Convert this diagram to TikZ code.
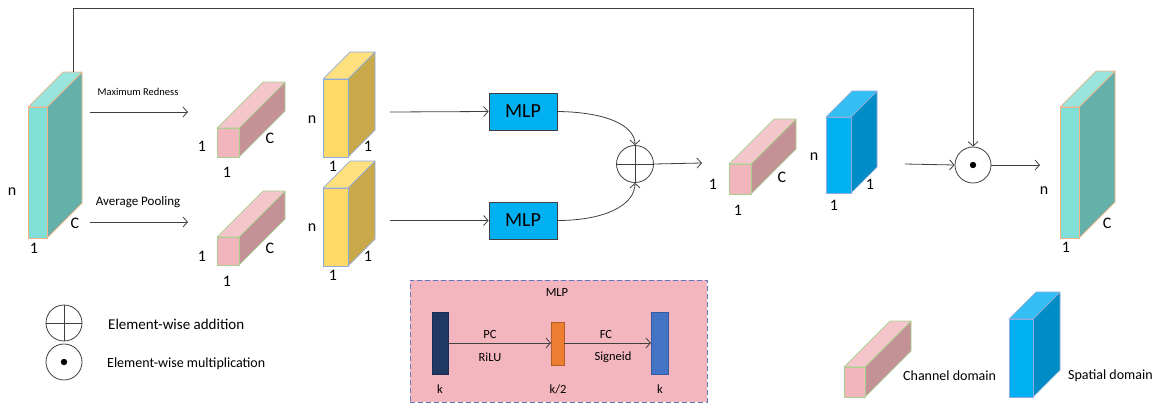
\documentclass[tikz,border=0pt]{standalone}
\usepackage{fontspec}
\setmainfont{Carlito}
\usetikzlibrary{arrows.meta}
\definecolor{cTf}{HTML}{80DFD7}
\definecolor{cTs}{HTML}{64B1AA}
\definecolor{cTt}{HTML}{98E5DD}
\definecolor{cTb}{HTML}{F4B183}
\definecolor{cPf}{HTML}{F2B4BD}
\definecolor{cPs}{HTML}{C49196}
\definecolor{cPt}{HTML}{F4C6CC}
\definecolor{cPb}{HTML}{A9D18E}
\definecolor{cYf}{HTML}{FFD966}
\definecolor{cYs}{HTML}{C9A94A}
\definecolor{cYt}{HTML}{FFE07F}
\definecolor{cYb}{HTML}{8FAADC}
\definecolor{cBf}{HTML}{00B0F0}
\definecolor{cBs}{HTML}{008CC4}
\definecolor{cBt}{HTML}{33BFF4}
\definecolor{cBb}{HTML}{8FAADC}
\definecolor{lineC}{HTML}{404040}
\definecolor{boxPink}{HTML}{F3B6BF}
\definecolor{boxDash}{HTML}{5B7BBF}
\definecolor{barDark}{HTML}{203864}
\definecolor{barOrange}{HTML}{ED7D31}
\definecolor{barBlue}{HTML}{4472C4}
% #1 name, #2 x, #3 y (top), #4 width, #5 height, #6 depth, #7 colour prefix
\newcommand{\cuboid}[7]{%
  \path[draw=#7b, fill=#7s, line width=0.7pt, line join=round] (#2+#4,#3) -- ++(#6,-#6) -- ++(0,#5) -- ++(-#6,#6) -- cycle;
  \path[draw=#7b, fill=#7t, line width=0.7pt, line join=round] (#2,#3) -- ++(#6,-#6) -- ++(#4,0) -- ++(-#6,#6) -- cycle;
  \node[draw=#7b, fill=#7f, line width=0.7pt, minimum width=#4, minimum height=#5, inner sep=0pt, outer sep=0pt, anchor=north west] (#1) at (#2,#3) {};
}
\begin{document}
\begin{tikzpicture}[x=1pt,y=-1pt,
  lbl/.style={font=\fontsize{16}{18}\selectfont, inner sep=0pt},
  small/.style={font=\fontsize{12.5}{14}\selectfont, inner sep=0pt},
  arr/.style={draw=lineC, line width=0.8pt, -{Straight Barb[length=4.5pt,width=10pt]}},
  ln/.style={draw=lineC, line width=0.8pt},
  opnode/.style={circle, draw=lineC, line width=0.8pt, minimum size=37pt, inner sep=0pt, fill=white},
  mlpnode/.style={draw=lineC, line width=0.8pt, fill=cBf, minimum width=68pt, minimum height=37pt, inner sep=0pt, font=\fontsize{20}{22}\selectfont},
  legtext/.style={anchor=west, inner sep=0pt}
]
\useasboundingbox (0,0) rectangle (1161,405);

% ---------- cuboids ----------
\cuboid{tin}{28}{107}{19}{131}{35}{cT}
\cuboid{pa}{217}{128}{22}{29}{46}{cP}
\cuboid{pb}{217}{237}{22}{28}{46}{cP}
\cuboid{ya}{323}{79}{25}{78}{27}{cY}
\cuboid{yb}{323}{188}{25}{78}{27}{cY}
\cuboid{pc}{729}{164}{22}{30}{45}{cP}
\cuboid{ba}{826}{117}{25}{76}{26}{cB}
\cuboid{tout}{1060}{107}{19}{131}{36}{cT}
\cuboid{lp}{844}{367}{21}{30}{46}{cP}
\cuboid{lb}{1009}{319}{24}{78}{27}{cB}

% ---------- labels on cuboids ----------
\node[lbl] (tin-n) at (12,192) {n};
\node[lbl] (tin-1) at (34,248) {1};
\node[lbl] (tin-c) at (75,223) {C};
\node[lbl] (pa-1l) at (202,146) {1};
\node[lbl] (pa-c) at (270,138) {C};
\node[lbl] (pa-1b) at (227,172) {1};
\node[lbl] (pb-1l) at (202,256) {1};
\node[lbl] (pb-c) at (270,248) {C};
\node[lbl] (pb-1b) at (227,281) {1};
\node[lbl] (ya-n) at (312,120) {n};
\node[lbl] (ya-1r) at (368,146) {1};
\node[lbl] (ya-1b) at (333,166) {1};
\node[lbl] (yb-n) at (312,228) {n};
\node[lbl] (yb-1r) at (368,256) {1};
\node[lbl] (yb-1b) at (333,275) {1};
\node[lbl] (pc-1l) at (713,184) {1};
\node[lbl] (pc-c) at (782,177) {C};
\node[lbl] (pc-1b) at (738,210) {1};
\node[lbl] (ba-n) at (814,157) {n};
\node[lbl] (ba-1r) at (870,184) {1};
\node[lbl] (ba-1b) at (834,205) {1};
\node[lbl] (tout-n) at (1044,191) {n};
\node[lbl] (tout-c) at (1107,223) {C};
\node[lbl] (tout-1) at (1066,247) {1};

% ---------- operators and MLPs ----------
\node[mlpnode] (m1) at (523,111.5) {MLP};
\node[mlpnode] (m2) at (523,220.5) {MLP};
\node[opnode] (plus) at (635,164) {};
\draw[ln] (plus.north) -- (plus.south) (plus.west) -- (plus.east);
\node[opnode, minimum size=36pt] (dot) at (973,165) {};
\fill[black] (dot.center) circle (3.2pt);

% ---------- arrows ----------
\coordinate (mrS) at (90,112);
\coordinate (mrE) at (188,112);
\coordinate (apS) at (90,222);
\coordinate (apE) at (188,222);
\draw[arr] (mrS) -- (mrE);
\draw[arr] (apS) -- (apE);
\node[inner sep=0pt, font=\fontsize{10.5}{12}\selectfont] (mrL) at (138,92) {Maximum Redness};
\node[inner sep=0pt, font=\fontsize{13}{15}\selectfont] (apL) at (138,202) {Average Pooling};

\coordinate (yaS) at (390,112);
\coordinate (ybS) at (390,220.5);
\draw[arr] (yaS) -- (m1.west);
\draw[arr] (ybS) -- (m2.west);
\draw[arr] (m1.east) .. controls (605,112) and (635,125) .. (plus.north);
\draw[arr] (m2.east) .. controls (605,220.5) and (635,205) .. (plus.south);
\coordinate (plusE) at (702,163);
\draw[arr] (plus.east) -- (plusE);

\coordinate (baS) at (905,164);
\draw[arr] (baS) -- (dot.west);
\coordinate (dotE) at (1040,165);
\draw[arr] (dot.east) -- (dotE);

\coordinate (tinTop) at (73,72);
\coordinate (topL) at (73,8);
\draw[arr] (tinTop) -- (topL) -| (dot.north);

% ---------- MLP detail box ----------
\node[draw=boxDash, fill=boxPink, dash pattern=on 5pt off 3pt, line width=0.8pt, minimum width=297pt, minimum height=122pt, inner sep=0pt, anchor=north west] (mlpbox) at (410,280) {};
\node[small] (mlpT) at (557,292) {MLP};
\node[fill=barDark, draw=barDark!80!black, line width=0.4pt, minimum width=16pt, minimum height=62pt, inner sep=0pt, anchor=north west] (bar1) at (432,312) {};
\node[fill=barOrange, draw=barOrange!75!black, line width=0.4pt, minimum width=13pt, minimum height=43pt, inner sep=0pt, anchor=north west] (bar2) at (551,322) {};
\node[fill=barBlue, draw=barBlue!80!black, line width=0.4pt, minimum width=17pt, minimum height=62pt, inner sep=0pt, anchor=north west] (bar3) at (651,312) {};
\draw[arr] (bar1.east |- 0,343) -- (bar2.west |- 0,343);
\draw[arr] (bar2.east |- 0,343) -- (bar3.west |- 0,343);
\node[small] (pcL) at (490,334) {PC};
\node[small] (riluL) at (490,357) {RiLU};
\node[small] (fcL) at (606,334) {FC};
\node[small] (sigL) at (613,357) {Signeid};
\node[small] (k1) at (440,389) {k};
\node[small] (k2) at (558,389) {k/2};
\node[small] (k3) at (660,389) {k};

% ---------- legends ----------
\node[opnode, minimum size=36pt] (lplus) at (64,323) {};
\draw[ln] (lplus.north) -- (lplus.south) (lplus.west) -- (lplus.east);
\node[opnode, minimum size=36pt] (ldot) at (64,362) {};
\fill[black] (ldot.center) circle (3.2pt);
\node[legtext, font=\fontsize{15}{17}\selectfont] (lplusT) at (108,324) {Element-wise addition};
\node[legtext, font=\fontsize{14}{16}\selectfont] (ldotT) at (107,364) {Element-wise multiplication};
\node[legtext, font=\fontsize{14}{16}\selectfont] (lpT) at (903,376) {Channel domain};
\node[legtext, font=\fontsize{14}{16}\selectfont] (lbT) at (1068,376) {Spatial domain};
\end{tikzpicture}
\end{document}
